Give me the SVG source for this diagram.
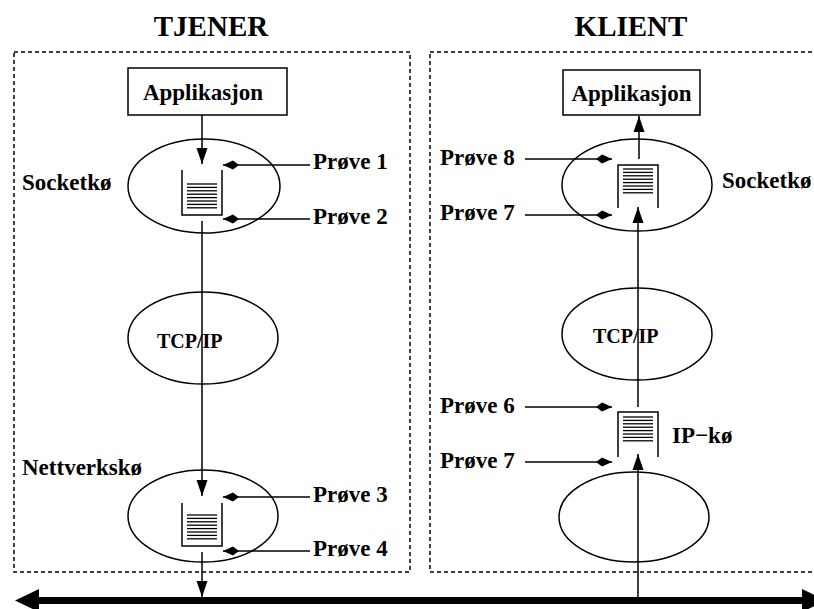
<svg xmlns="http://www.w3.org/2000/svg" width="814" height="609" viewBox="0 0 814 609" font-family="'Liberation Serif', 'Times New Roman', Times, 'DejaVu Serif', serif">
<style>
text{font-family:'Liberation Serif','Times New Roman',Times,'DejaVu Serif',serif;font-weight:700;fill:#000}
.title{font-size:29px}
.lbl{font-size:23px}
.small{font-size:20px}
.box{fill:#fff;stroke:#000;stroke-width:1.5}
.ell{fill:none;stroke:#000;stroke-width:1.5}
.dash{fill:none;stroke:#000;stroke-width:1.5;stroke-dasharray:4 3}
.ln{fill:none;stroke:#000;stroke-width:1.5}
.q{fill:none;stroke:#000;stroke-width:1.5}
.bars{stroke:#000;stroke-width:1.3}
.arr{fill:none;stroke:#000;stroke-width:1.5;marker-end:url(#tri)}
.prb{fill:none;stroke:#000;stroke-width:1.5;marker-end:url(#kite)}
</style>
<defs>
<marker id="tri" markerUnits="userSpaceOnUse" markerWidth="18" markerHeight="14" viewBox="0 -7 18 14" refX="16" refY="0" orient="auto">
<path d="M16,0 L0,-5.5 L0,5.5 Z" fill="#000"/>
</marker>
<marker id="kite" markerUnits="userSpaceOnUse" markerWidth="18" markerHeight="12" viewBox="0 -6 18 12" refX="16" refY="0" orient="auto">
<path d="M16,0 L6,-4.5 L0,0 L6,4.5 Z" fill="#000"/>
</marker>
<g id="qlines">
<line x1="0" y1="0" x2="30" y2="0"/>
<line x1="0" y1="3.4" x2="30" y2="3.4"/>
<line x1="0" y1="6.8" x2="30" y2="6.8"/>
<line x1="0" y1="10.2" x2="30" y2="10.2"/>
<line x1="0" y1="13.6" x2="30" y2="13.6"/>
<line x1="0" y1="17" x2="30" y2="17"/>
<line x1="0" y1="20.4" x2="30" y2="20.4"/>
<line x1="0" y1="23.8" x2="30" y2="23.8"/>
</g>
</defs>
<rect width="814" height="609" fill="#fff"/>

<g id="titles">
<text class="title" x="211" y="36" text-anchor="middle">TJENER</text>
<text class="title" x="631" y="36" text-anchor="middle">KLIENT</text>
</g>

<g id="server-frame"><rect class="dash" x="14" y="52" width="396" height="520"/></g>
<g id="client-frame"><rect class="dash" x="430" y="52" width="400" height="520"/></g>

<!-- Server -->
<g id="s-app">
<rect class="box" x="128" y="68" width="159" height="47"/>
<text class="lbl" x="203" y="100" text-anchor="middle">Applikasjon</text>
</g>
<g id="s-socket">
<ellipse class="ell" cx="204" cy="186" rx="76" ry="47"/>
<path class="q" d="M182,170 V215 H222 V170"/>
<use href="#qlines" class="bars" x="187" y="184"/>
<text class="lbl" x="22" y="190">Socketkø</text>
</g>
<g id="s-tcp">
<ellipse class="ell" cx="203" cy="338" rx="75" ry="46"/>
<text class="small" x="157" y="348">TCP/IP</text>
</g>
<g id="s-net">
<ellipse class="ell" cx="203" cy="516" rx="75" ry="46"/>
<path class="q" d="M182,503 V546 H222 V503"/>
<use href="#qlines" class="bars" x="187" y="515"/>
<text class="lbl" x="22" y="475">Nettverkskø</text>
</g>
<g id="s-probes">
<text class="lbl" x="313" y="169">Prøve 1</text>
<text class="lbl" x="313" y="224">Prøve 2</text>
<text class="lbl" x="313" y="502">Prøve 3</text>
<text class="lbl" x="313" y="556">Prøve 4</text>
</g>

<!-- Client -->
<g id="c-app">
<rect class="box" x="563" y="70" width="137" height="45"/>
<text class="lbl" x="631.5" y="101" text-anchor="middle">Applikasjon</text>
</g>
<g id="c-socket">
<ellipse class="ell" cx="637" cy="185" rx="75" ry="46"/>
<path class="q" d="M618,208 V165 H658 V208"/>
<use href="#qlines" class="bars" x="623" y="169"/>
<text class="lbl" x="722" y="188">Socketkø</text>
</g>
<g id="c-tcp">
<ellipse class="ell" cx="637" cy="334" rx="75" ry="46"/>
<text class="small" x="593" y="343">TCP/IP</text>
</g>
<g id="c-ipq">
<path class="q" d="M618,457 V412 H658 V457"/>
<use href="#qlines" class="bars" x="623" y="417"/>
<text class="lbl" x="672" y="443">IP−kø</text>
</g>
<g id="c-net">
<ellipse class="ell" cx="634" cy="517" rx="75" ry="45"/>
</g>
<g id="c-probes">
<text class="lbl" x="440" y="165">Prøve 8</text>
<text class="lbl" x="440" y="220">Prøve 7</text>
<text class="lbl" x="440" y="413">Prøve 6</text>
<text class="lbl" x="440" y="468">Prøve 7</text>
</g>

<g id="connectors">
<line class="arr" x1="202" y1="115" x2="202" y2="164"/>
<line class="arr" x1="202" y1="221" x2="202" y2="496"/>
<line class="arr" x1="202" y1="552" x2="202" y2="597"/>
<line class="prb" x1="310" y1="165" x2="223" y2="165"/>
<line class="prb" x1="310" y1="219" x2="223" y2="219"/>
<line class="prb" x1="310" y1="497" x2="223" y2="497"/>
<line class="prb" x1="310" y1="551" x2="223" y2="551"/>

<line class="arr" x1="638" y1="600" x2="638" y2="454"/>
<line class="ln" x1="638" y1="407" x2="638" y2="230"/>
<line class="arr" x1="638" y1="230" x2="638" y2="207"/>
<line class="arr" x1="639" y1="159" x2="639" y2="116"/>
<line class="prb" x1="525" y1="159" x2="612" y2="159"/>
<line class="prb" x1="525" y1="215" x2="612" y2="215"/>
<line class="prb" x1="525" y1="407" x2="612" y2="407"/>
<line class="prb" x1="525" y1="462" x2="612" y2="462"/>

<g id="bus">
<line x1="36" y1="600.5" x2="805" y2="600.5" stroke="#000" stroke-width="7"/>
<polygon points="15,600.5 39,589 39,612" fill="#000"/>
<polygon points="826,600.5 802,589 802,612" fill="#000"/>
</g>
</g>
</svg>
